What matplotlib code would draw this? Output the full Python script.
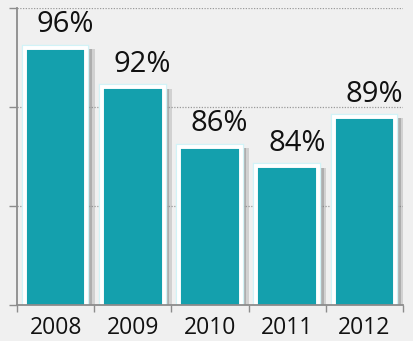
import numpy as np
import matplotlib
matplotlib.use('Agg')
from matplotlib import pyplot as plt
from matplotlib import patheffects as pe

# yearly shares
years  = ['2008', '2009', '2010', '2011', '2012']
shares = [96, 92, 86, 84, 89]
labels = ['96%', '92%', '86%', '84%', '89%']

bar_color  = '#14a0ad'
bg_color   = '#f0f0f0'
axis_color = '#8c8c8c'

plt.rcParams['font.family'] = ['Open Sans', 'DejaVu Sans']

fig = plt.figure(figsize=(4.14, 3.41), dpi=100, facecolor=bg_color)
ax  = fig.add_axes([17/414, 1-305/341, 386/414, 297/341])
ax.set_facecolor(bg_color)

x = np.arange(len(years))

# dotted grid behind the bars
for yv in [80, 90, 100]:
   ax.axhline(yv, color='#9a9a9a', lw=0.9, ls=(0, (1, 1.2)), zorder=0)

bars = ax.bar(x, shares, width=0.8, bottom=0, color=bar_color,
              edgecolor='white', linewidth=2.8, zorder=2)
for b in bars:
   b.set_path_effects([
      pe.SimplePatchShadow(offset=(6, -1), shadow_rgbFace='#8a8a8a', alpha=0.3),
      pe.SimplePatchShadow(offset=(4, -1), shadow_rgbFace='#7a7a7a', alpha=0.4),
      pe.Stroke(linewidth=4.6, foreground='#d2f3f7'),
      pe.Normal()])

for xi, v, lab in zip(x, shares, labels):
   ax.annotate(lab, (xi, v), xytext=(7, 6), textcoords='offset points',
               ha='center', va='bottom', fontsize=21, color='#111111',
               annotation_clip=False, zorder=3)

ax.set_xlim(-0.5, len(years) - 0.5)
ax.set_ylim(70, 100)

# year labels at the centres, tick marks at category edges
ax.set_xticks(x)
ax.set_xticklabels(years, fontsize=16.5, color='#111111')
ax.set_xticks(np.arange(len(years) + 1) - 0.5, minor=True)
ax.tick_params(axis='x', which='major', length=0, pad=8)
ax.tick_params(axis='x', which='minor', length=5, width=1, color=axis_color, direction='out')

ax.set_yticks([70, 80, 90, 100])
ax.set_yticklabels([])
ax.tick_params(axis='y', length=6, width=1, color=axis_color, direction='out')

for s in ['top', 'right']:
   ax.spines[s].set_visible(False)
for s in ['left', 'bottom']:
   ax.spines[s].set_color(axis_color)
   ax.spines[s].set_linewidth(1.3)
   ax.spines[s].set_zorder(4)

fig.savefig('out.png', dpi=100, facecolor=bg_color)
